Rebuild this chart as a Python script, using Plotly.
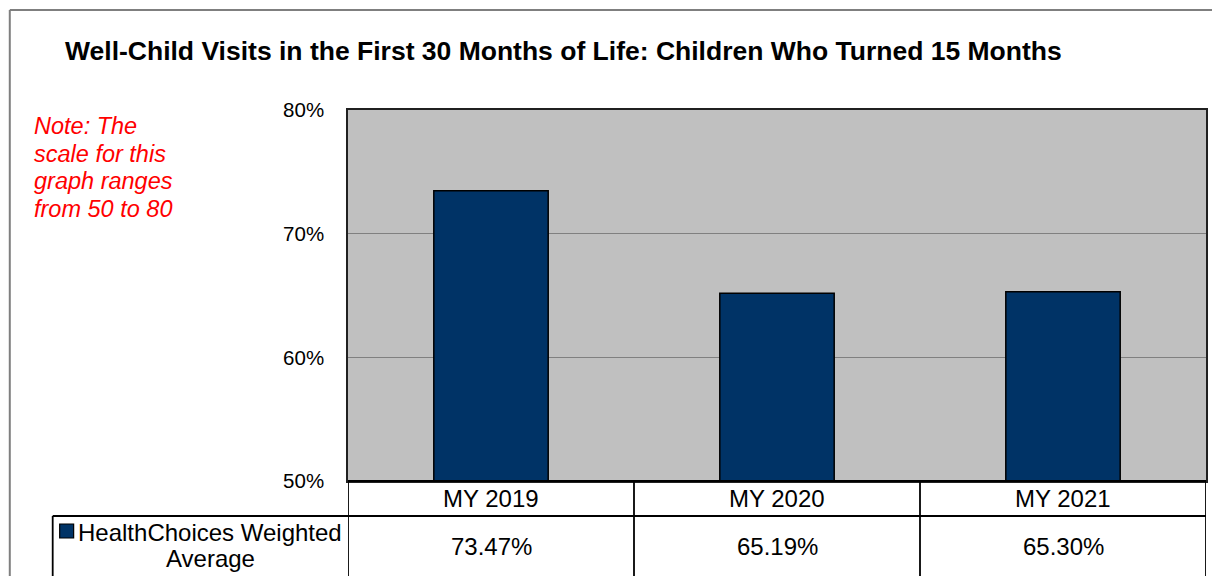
import plotly.graph_objects as go

# data
categories = ["MY 2019", "MY 2020", "MY 2021"]
series_name = "HealthChoices Weighted<br>Average"
values = [73.47, 65.19, 65.30]
tick_values = [50, 60, 70, 80]
tick_labels = ["50%", "60%", "70%", "80%"]

title = "Well-Child Visits in the First 30 Months of Life: Children Who Turned 15 Months"
note_lines = ["Note: The", "scale for this", "graph ranges", "from 50 to 80"]

NAVY = "#003366"
FONT = "Liberation Sans, Arial, sans-serif"

W, H = 1212, 576
L, R, T, B = 348, 1208, 110, 481  # plot area in px


def py(px_y):
    # pixel y -> paper y
    return (B - px_y) / (B - T)


def px_(px_x):
    # pixel x -> paper x
    return (px_x - L) / (R - L)


fig = go.Figure()
fig.add_trace(
    go.Bar(
        x=categories,
        y=values,
        marker=dict(color=NAVY, line=dict(color="black", width=1.5)),
        showlegend=False,
        hoverinfo="x+y",
    )
)

shapes = []
# outer chart frame (top and left only)
shapes.append(dict(type="line", xref="paper", yref="paper",
                   x0=px_(9), x1=px_(1215), y0=py(10), y1=py(10),
                   line=dict(color="#7f7f7f", width=2)))
shapes.append(dict(type="line", xref="paper", yref="paper",
                   x0=px_(9), x1=px_(9), y0=py(10), y1=py(580),
                   line=dict(color="#7f7f7f", width=2)))

# data table lines
n = len(categories)
for i in range(n + 1):
    shapes.append(dict(type="line", xref="x", yref="paper",
                       x0=i - 0.5, x1=i - 0.5, y0=0, y1=py(580),
                       line=dict(color="black", width=1.8)))
shapes.append(dict(type="line", xref="paper", yref="paper",
                   x0=px_(52), x1=1, y0=py(516), y1=py(516),
                   line=dict(color="black", width=1.8)))
shapes.append(dict(type="line", xref="paper", yref="paper",
                   x0=px_(52), x1=px_(52), y0=py(516), y1=py(580),
                   line=dict(color="black", width=1.8)))
shapes.append(dict(type="line", xref="paper", yref="paper",
                   x0=0, x1=1, y0=0, y1=0,
                   line=dict(color="black", width=1.8)))
# legend key
shapes.append(dict(type="rect", xref="paper", yref="paper",
                   x0=px_(59), x1=px_(73), y0=py(538), y1=py(524),
                   fillcolor=NAVY, line=dict(color="black", width=1.2)))

annotations = []
annotations.append(dict(text=f"<b>{title}</b>", xref="paper", yref="paper",
                        x=px_(62), y=py(51), xanchor="left", yanchor="middle",
                        showarrow=False, font=dict(size=26.5, color="black", family=FONT)))
for k, line in enumerate(note_lines):
    annotations.append(dict(text=f"<i>{line}</i>", xref="paper", yref="paper",
                            x=px_(31), y=py(126 + k * 27.7), xanchor="left", yanchor="middle",
                            showarrow=False, font=dict(size=23.5, color="red", family=FONT)))
for cat, val in zip(categories, values):
    annotations.append(dict(text=cat, xref="x", yref="paper", x=cat, y=py(498),
                            xanchor="center", yanchor="middle", showarrow=False,
                            font=dict(size=24, color="black", family=FONT)))
    annotations.append(dict(text=f"{val:.2f}%", xref="x", yref="paper", x=cat, y=py(546),
                            xanchor="center", yanchor="middle", showarrow=False,
                            font=dict(size=24, color="black", family=FONT)))
for k, line in enumerate(series_name.split("<br>")):
    annotations.append(dict(text=line, xref="paper", yref="paper",
                            x=px_(210), y=py(532 + k * 26), xanchor="center", yanchor="middle",
                            showarrow=False, font=dict(size=24, color="black", family=FONT)))

fig.update_layout(
    width=W,
    height=H,
    margin=dict(l=L, r=W - R, t=T, b=H - B, pad=0),
    paper_bgcolor="white",
    plot_bgcolor="#C0C0C0",
    bargap=0.6,
    font=dict(family=FONT, color="black"),
    shapes=shapes,
    annotations=annotations,
    xaxis=dict(showticklabels=False, showgrid=False, zeroline=False,
               range=[-0.5, n - 0.5], showline=True, linecolor="#202020", linewidth=1.5,
               mirror=True, fixedrange=True),
    yaxis=dict(range=[50, 80], tickvals=tick_values, ticktext=tick_labels,
               showgrid=True, gridcolor="#808080", gridwidth=1.2,
               zeroline=False, showline=True, linecolor="#202020", linewidth=1.5, mirror=True,
               ticks="outside", ticklen=18, tickcolor="rgba(0,0,0,0)",
               tickfont=dict(size=20.5, color="black", family=FONT), fixedrange=True),
)

fig.write_html("out.html", config={"displayModeBar": False},
               post_script="document.body.style.margin='0';document.body.style.overflow='hidden';")
